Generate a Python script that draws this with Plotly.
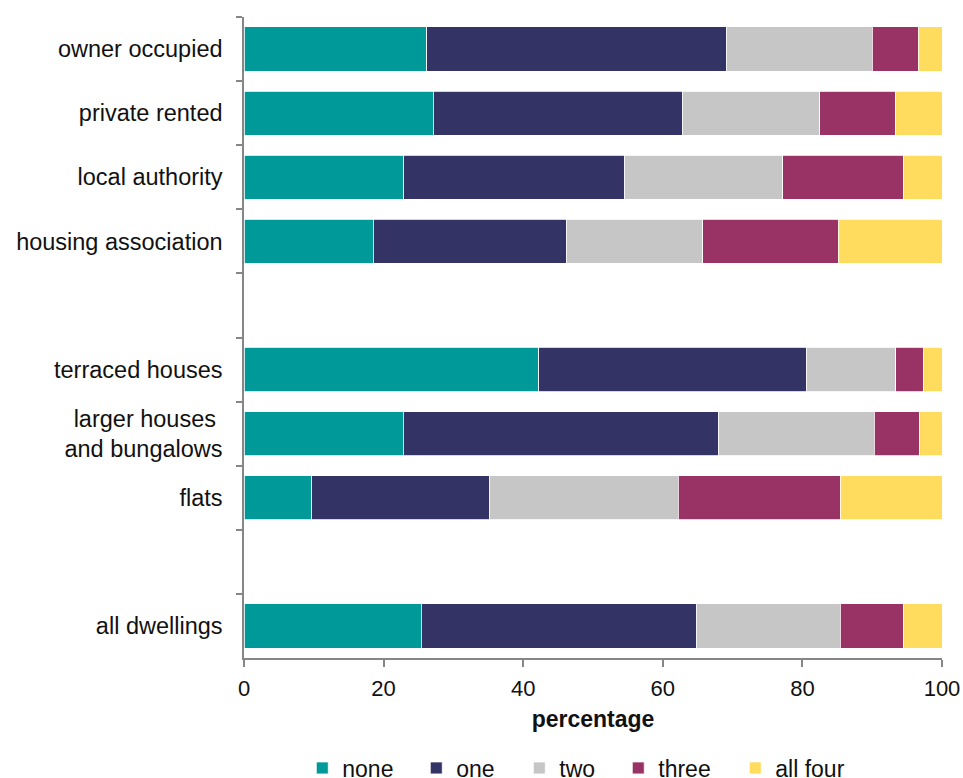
import plotly.graph_objects as go

categories = ["owner occupied", "private rented", "local authority", "housing association", " ",
              "terraced houses", "larger houses\u00a0<br>and bungalows", "flats", "  ", "all dwellings"]
series_names = ["none", "one", "two", "three", "all four"]
none_vals  = [26.2, 27.1, 22.9, 18.5, None, 42.2, 22.8, 9.7, None, 25.4]
one_vals   = [42.9, 35.7, 31.6, 27.7, None, 38.4, 45.2, 25.4, None, 39.4]
two_vals   = [20.9, 19.7, 22.7, 19.5, None, 12.8, 22.3, 27.1, None, 20.6]
three_vals = [6.6, 10.9, 17.3, 19.4, None, 4.0, 6.5, 23.2, None, 9.1]
four_vals  = [3.4, 6.6, 5.5, 14.9, None, 2.6, 3.2, 14.6, None, 5.5]
colors = ["#009999", "#333366", "#C6C6C6", "#993366", "#FFDB5E"]
x_ticks = [0, 20, 40, 60, 80, 100]

legend_ids = ["legend", "legend2", "legend3", "legend4", "legend5"]
legend_x = [0.0835, 0.2468, 0.3944, 0.5362, 0.7038]

fig = go.Figure()
for name, vals, col, lid in zip(series_names, [none_vals, one_vals, two_vals, three_vals, four_vals],
                                colors, legend_ids):
    fig.add_trace(go.Bar(
        name=name, x=vals, y=categories, orientation="h",
        marker=dict(color=col, line=dict(color="white", width=0.8)),
        width=0.69, legend=lid,
    ))

font_family = "Liberation Sans, Arial, sans-serif"
layout_legends = {}
for lid, lx in zip(legend_ids, legend_x):
    layout_legends[lid] = dict(orientation="h", x=lx, xanchor="left", y=-0.1716, yanchor="middle",
                               font=dict(size=23), bgcolor="rgba(0,0,0,0)", itemwidth=30)

# page body has an 8px margin, so the figure is shifted by 8px; compensate
fig.update_layout(
    barmode="stack",
    width=955, height=770,
    margin=dict(l=236, r=21, t=9, b=120, autoexpand=False),
    paper_bgcolor="white", plot_bgcolor="white",
    font=dict(family=font_family, size=22, color="#111111"),
    showlegend=True,
    xaxis=dict(range=[0, 100], tickvals=x_ticks, ticks="outside", ticklen=7,
               tickcolor="#868686", tickwidth=1.5, showline=True, linecolor="#868686",
               linewidth=1.5, showgrid=False, zeroline=False, automargin=False,
               tickfont=dict(size=22), ticklabelstandoff=3, ticklabeloverflow="allow",
               title=dict(text="<b>percentage</b>", font=dict(size=23), standoff=11)),
    yaxis=dict(type="category", categoryorder="array", categoryarray=categories,
               autorange="reversed", tickson="boundaries", ticks="outside", ticklen=6,
               tickcolor="#868686", tickwidth=1.5, showline=True, linecolor="#868686",
               linewidth=1.5, showgrid=False, automargin=False, ticklabelstandoff=15,
               tickfont=dict(size=23.5)),
    **layout_legends,
)
fig.write_html(
    "out.html",
    post_script="document.body.style.margin='8px 0 0 8px';document.documentElement.style.overflow='hidden';",
)
